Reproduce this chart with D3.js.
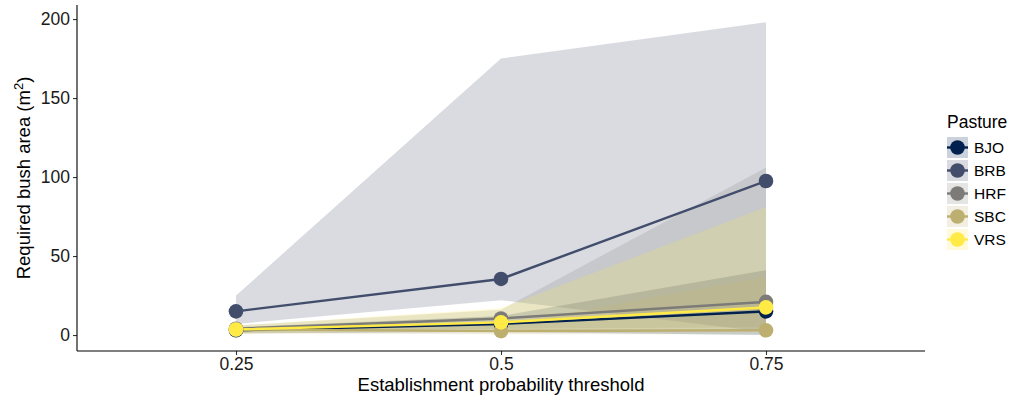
<!DOCTYPE html>
<html>
<head>
<meta charset="utf-8">
<script src="https://cdn.jsdelivr.net/npm/d3@7"></script>
<style>
  html, body { margin: 0; padding: 0; background: #fff; }
  svg { display: block; font-family: "Liberation Sans", Arial, sans-serif; }
</style>
</head>
<body>
<svg id="chart" width="1014" height="403"></svg>
<script>
// Establishment probability thresholds
const thresholds = [0.25, 0.5, 0.75];
const xTicks = [0.25, 0.5, 0.75];
const xTickLabels = ["0.25", "0.5", "0.75"];
const yTicks = [0, 50, 100, 150, 200];

// Pastures and colours (cividis)
const pastures = ["BJO", "BRB", "HRF", "SBC", "VRS"];
const colors = ["#00204D", "#414D6B", "#7C7B78", "#BCAF6F", "#FFEA46"];

// Required bush area (m²): estimate with lower / upper bounds per threshold
const bjoMean = [3, 7, 15];
const bjoLow = [1, 2, 0];
const bjoHigh = [5, 12, 41];

const brbMean = [15, 35.5, 97.5];
const brbLow = [7, 22, 2];
const brbHigh = [25, 175, 198];

const hrfMean = [4, 10.5, 21];
const hrfLow = [2, 4, 5];
const hrfHigh = [6, 16, 106];

const sbcMean = [3.5, 2.5, 3];
const sbcLow = [1, 0.5, 0.5];
const sbcHigh = [5, 6, 37];

const vrsMean = [3.5, 8, 17.5];
const vrsLow = [1, 3, 4];
const vrsHigh = [6, 17, 81];

const seriesMean = [bjoMean, brbMean, hrfMean, sbcMean, vrsMean];
const seriesLow = [bjoLow, brbLow, hrfLow, sbcLow, vrsLow];
const seriesHigh = [bjoHigh, brbHigh, hrfHigh, sbcHigh, vrsHigh];

const series = pastures.map((name, i) => ({
  name,
  color: colors[i],
  values: thresholds.map((t, j) => ({
    x: t, y: seriesMean[i][j], lo: seriesLow[i][j], hi: seriesHigh[i][j]
  }))
}));

const svg = d3.select("#chart");
const panel = { left: 77, right: 925, top: 5, bottom: 351 };

const x = d3.scaleLinear().domain([0.1, 0.9]).range([panel.left, panel.right]);
const y = d3.scaleLinear().domain([-10.1, 208.9]).range([panel.bottom, panel.top]);

// Confidence ribbons
const area = d3.area()
  .x(d => x(d.x))
  .y0(d => y(d.lo))
  .y1(d => y(d.hi));

svg.append("g").selectAll("path")
  .data(series)
  .join("path")
  .attr("d", d => area(d.values))
  .attr("fill", d => d.color)
  .attr("fill-opacity", 0.2)
  .attr("stroke", "none");

// Lines
const line = d3.line().x(d => x(d.x)).y(d => y(d.y));
svg.append("g").selectAll("path")
  .data(series)
  .join("path")
  .attr("d", d => line(d.values))
  .attr("fill", "none")
  .attr("stroke", d => d.color)
  .attr("stroke-width", 2.4);

// Points
svg.append("g").selectAll("g")
  .data(series)
  .join("g")
  .attr("fill", d => d.color)
  .selectAll("circle")
  .data(d => d.values)
  .join("circle")
  .attr("cx", d => x(d.x))
  .attr("cy", d => y(d.y))
  .attr("r", 7.3);

// Axes
const xAxis = d3.axisBottom(x)
  .tickValues(xTicks)
  .tickFormat((d, i) => xTickLabels[i])
  .tickSizeOuter(0)
  .tickSize(4)
  .tickPadding(3);
const gx = svg.append("g")
  .attr("transform", `translate(0,${panel.bottom})`)
  .call(xAxis);

const yAxis = d3.axisLeft(y)
  .tickValues(yTicks)
  .tickSizeOuter(0)
  .tickSize(4)
  .tickPadding(3);
const gy = svg.append("g")
  .attr("transform", `translate(${panel.left},0)`)
  .call(yAxis);

[gx, gy].forEach(g => {
  g.select(".domain").remove();
  g.selectAll(".tick line").attr("stroke", "#333").attr("stroke-width", 1.1);
  g.selectAll(".tick text")
    .attr("fill", "#1a1a1a")
    .attr("font-size", 17.5)
    .attr("font-family", "'Liberation Sans', Arial, sans-serif");
});

// Axis lines
svg.append("line")
  .attr("x1", panel.left).attr("x2", panel.right)
  .attr("y1", panel.bottom).attr("y2", panel.bottom)
  .attr("stroke", "#000").attr("stroke-width", 1.1);
svg.append("line")
  .attr("x1", panel.left).attr("x2", panel.left)
  .attr("y1", panel.top).attr("y2", panel.bottom)
  .attr("stroke", "#000").attr("stroke-width", 1.1);

// Axis titles
svg.append("text")
  .attr("x", (panel.left + panel.right) / 2)
  .attr("y", 391)
  .attr("text-anchor", "middle")
  .attr("fill", "#000")
  .style("font-size", "18.5px")
  .text("Establishment probability threshold");

const yTitle = svg.append("text")
  .attr("transform", `translate(30,${(panel.top + panel.bottom) / 2}) rotate(-90)`)
  .attr("text-anchor", "middle")
  .attr("fill", "#000")
  .style("font-size", "18.5px");
yTitle.append("tspan").text("Required bush area (m");
yTitle.append("tspan").attr("dy", -7).style("font-size", "13px").text("2");
yTitle.append("tspan").attr("dy", 7).text(")");

// Legend
const legend = svg.append("g").attr("transform", "translate(947,0)");
legend.append("text")
  .attr("x", 0)
  .attr("y", 128)
  .attr("fill", "#000")
  .style("font-size", "17.5px")
  .text("Pasture");

const keySize = 21;
const keyTop = 137;
const keyStep = 23;
const keys = legend.selectAll("g.key")
  .data(series)
  .join("g")
  .attr("class", "key")
  .attr("transform", (d, i) => `translate(0,${keyTop + i * keyStep})`);

keys.append("rect")
  .attr("width", keySize)
  .attr("height", keySize)
  .attr("fill", d => d.color)
  .attr("fill-opacity", 0.2);
keys.append("line")
  .attr("x1", 0).attr("x2", keySize)
  .attr("y1", keySize / 2).attr("y2", keySize / 2)
  .attr("stroke", d => d.color)
  .attr("stroke-width", 2.4);
keys.append("circle")
  .attr("cx", keySize / 2)
  .attr("cy", keySize / 2)
  .attr("r", 7.3)
  .attr("fill", d => d.color);
keys.append("text")
  .attr("x", keySize + 6)
  .attr("y", keySize / 2)
  .attr("dy", "0.36em")
  .attr("fill", "#000")
  .style("font-size", "15.5px")
  .text(d => d.name);
</script>
</body>
</html>
